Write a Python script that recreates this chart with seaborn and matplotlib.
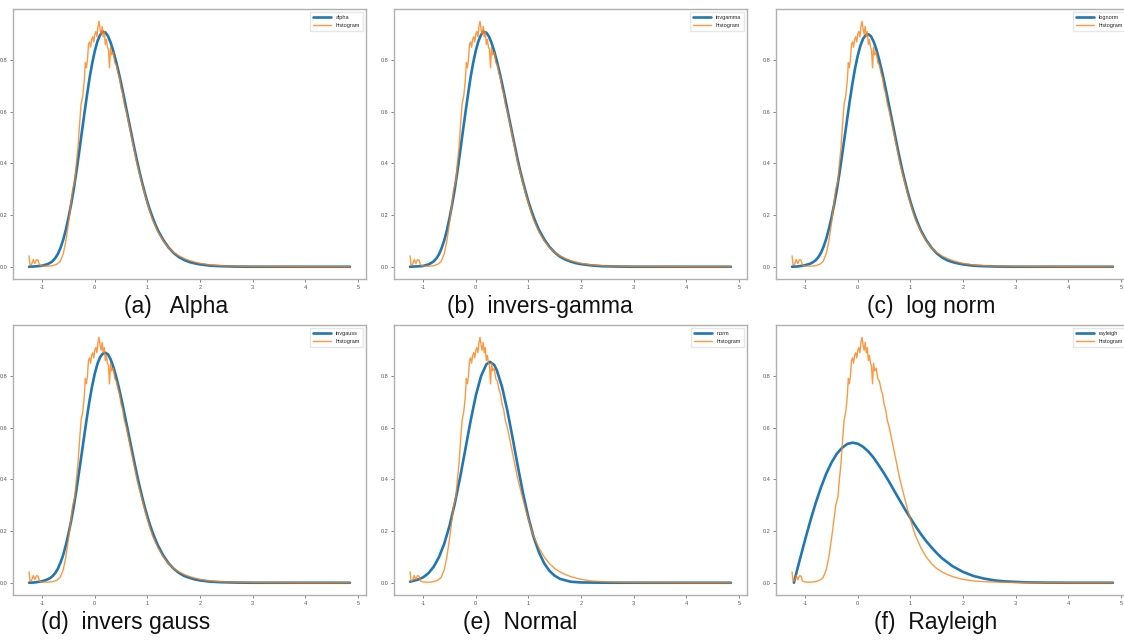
import matplotlib
matplotlib.use("Agg")
import matplotlib.pyplot as plt
import seaborn as sns

# histogram of the data (same in every panel)
hist_x = [-1.25, -1.23, -1.20, -1.17, -1.14, -1.11, -1.08, -1.05, -1.00, -0.90,
          -0.80, -0.72, -0.66, -0.60, -0.55, -0.50, -0.45, -0.42, -0.38, -0.35,
          -0.32, -0.29, -0.26, -0.23, -0.20, -0.18, -0.16, -0.14, -0.12, -0.10,
          -0.08, -0.06, -0.04, -0.02, 0.00, 0.02, 0.04, 0.06, 0.08, 0.10,
          0.12, 0.14, 0.16, 0.18, 0.20, 0.22, 0.24, 0.26, 0.28, 0.30,
          0.32, 0.35, 0.38, 0.41, 0.44, 0.47, 0.50, 0.53, 0.56, 0.60,
          0.65, 0.70, 0.75, 0.80, 0.85, 0.90, 0.95, 1.00, 1.05, 1.10,
          1.20, 1.30, 1.40, 1.50, 1.60, 1.70, 1.80, 1.90, 2.00, 2.20,
          2.40, 2.70, 3.00, 3.50, 4.00, 4.85]
hist_y = [0.042, 0.005, 0.010, 0.028, 0.012, 0.027, 0.026, 0.006, 0.003, 0.002,
          0.004, 0.010, 0.020, 0.050, 0.100, 0.170, 0.250, 0.300, 0.330, 0.400,
          0.460, 0.550, 0.630, 0.660, 0.720, 0.790, 0.770, 0.800, 0.860, 0.870,
          0.850, 0.880, 0.890, 0.870, 0.900, 0.910, 0.890, 0.930, 0.950, 0.920,
          0.900, 0.930, 0.890, 0.910, 0.860, 0.880, 0.850, 0.840, 0.770, 0.850,
          0.820, 0.830, 0.790, 0.780, 0.750, 0.730, 0.690, 0.670, 0.630, 0.600,
          0.550, 0.500, 0.450, 0.400, 0.360, 0.320, 0.280, 0.245, 0.210, 0.180,
          0.135, 0.100, 0.074, 0.055, 0.042, 0.032, 0.024, 0.018, 0.013, 0.007,
          0.004, 0.002, 0.001, 0.0005, 0.0, 0.0]

# fitted pdfs, shared x grid for the four close fits
fit_x = [-1.25, -1.15, -1.05, -1.00, -0.95, -0.90, -0.85, -0.80, -0.75, -0.70,
         -0.65, -0.60, -0.55, -0.50, -0.45, -0.40, -0.35, -0.30, -0.25, -0.20,
         -0.15, -0.10, -0.05, 0.00, 0.05, 0.10, 0.15, 0.20, 0.25, 0.30,
         0.35, 0.40, 0.45, 0.50, 0.55, 0.60, 0.65, 0.70, 0.75, 0.80,
         0.85, 0.90, 0.95, 1.00, 1.05, 1.10, 1.15, 1.20, 1.30, 1.40,
         1.50, 1.60, 1.70, 1.80, 1.90, 2.00, 2.20, 2.40, 2.70, 3.00,
         4.85]
alpha_y = [0.0, 0.001, 0.003, 0.004, 0.007, 0.010, 0.015, 0.022, 0.034, 0.050,
           0.074, 0.105, 0.144, 0.190, 0.242, 0.300, 0.368, 0.440, 0.515, 0.590,
           0.662, 0.730, 0.787, 0.835, 0.872, 0.897, 0.910, 0.907, 0.893, 0.868,
           0.836, 0.798, 0.756, 0.710, 0.661, 0.610, 0.560, 0.510, 0.460, 0.412,
           0.367, 0.325, 0.286, 0.250, 0.218, 0.190, 0.164, 0.141, 0.104, 0.075,
           0.053, 0.037, 0.026, 0.018, 0.013, 0.009, 0.004, 0.002, 0.0005, 0.0,
           0.0]
invgamma_y = [0.0, 0.001, 0.002, 0.003, 0.006, 0.009, 0.014, 0.021, 0.032, 0.048,
              0.072, 0.102, 0.141, 0.188, 0.241, 0.300, 0.369, 0.442, 0.518, 0.592,
              0.664, 0.732, 0.789, 0.837, 0.873, 0.898, 0.910, 0.906, 0.891, 0.866,
              0.834, 0.796, 0.754, 0.708, 0.659, 0.608, 0.558, 0.508, 0.459, 0.410,
              0.366, 0.326, 0.288, 0.252, 0.221, 0.192, 0.166, 0.143, 0.106, 0.077,
              0.055, 0.039, 0.028, 0.020, 0.014, 0.010, 0.005, 0.002, 0.0007, 0.0,
              0.0]
lognorm_y = [0.0, 0.001, 0.004, 0.006, 0.009, 0.012, 0.018, 0.025, 0.037, 0.054,
             0.078, 0.108, 0.146, 0.190, 0.240, 0.296, 0.360, 0.430, 0.502, 0.575,
             0.646, 0.712, 0.770, 0.818, 0.856, 0.882, 0.896, 0.900, 0.892, 0.872,
             0.843, 0.806, 0.764, 0.718, 0.669, 0.618, 0.567, 0.516, 0.465, 0.416,
             0.370, 0.328, 0.288, 0.252, 0.219, 0.190, 0.164, 0.140, 0.103, 0.074,
             0.052, 0.036, 0.025, 0.018, 0.013, 0.009, 0.004, 0.002, 0.0005, 0.0,
             0.0]
invgauss_y = [0.0, 0.001, 0.004, 0.006, 0.009, 0.013, 0.018, 0.026, 0.038, 0.055,
              0.079, 0.108, 0.146, 0.190, 0.239, 0.295, 0.358, 0.428, 0.498, 0.570,
              0.640, 0.705, 0.762, 0.810, 0.847, 0.873, 0.886, 0.890, 0.884, 0.865,
              0.837, 0.802, 0.761, 0.716, 0.668, 0.618, 0.568, 0.518, 0.468, 0.420,
              0.374, 0.332, 0.292, 0.256, 0.223, 0.194, 0.168, 0.144, 0.106, 0.076,
              0.054, 0.038, 0.026, 0.019, 0.013, 0.009, 0.004, 0.002, 0.0005, 0.0,
              0.0]

norm_x = [-1.25, -1.10, -1.00, -0.90, -0.80, -0.70, -0.60, -0.50, -0.40, -0.30,
          -0.20, -0.10, 0.00, 0.10, 0.20, 0.27, 0.35, 0.40, 0.50, 0.60,
          0.70, 0.80, 0.90, 1.00, 1.10, 1.20, 1.30, 1.40, 1.50, 1.60,
          1.80, 2.00, 2.50, 4.85]
norm_y = [0.004, 0.012, 0.021, 0.037, 0.062, 0.099, 0.151, 0.220, 0.306, 0.406,
          0.515, 0.625, 0.724, 0.800, 0.845, 0.855, 0.843, 0.822, 0.757, 0.666,
          0.560, 0.449, 0.344, 0.252, 0.176, 0.118, 0.075, 0.046, 0.027, 0.015,
          0.004, 0.001, 0.0, 0.0]

rayleigh_x = [-1.215, -1.15, -1.10, -1.00, -0.90, -0.80, -0.70, -0.60, -0.50, -0.40,
              -0.30, -0.20, -0.10, 0.00, 0.10, 0.20, 0.30, 0.40, 0.50, 0.60,
              0.70, 0.80, 0.90, 1.00, 1.10, 1.20, 1.30, 1.40, 1.50, 1.60,
              1.80, 2.00, 2.20, 2.40, 2.60, 2.80, 3.20, 3.60, 4.00, 4.85]
rayleigh_y = [0.0, 0.052, 0.091, 0.168, 0.241, 0.309, 0.369, 0.422, 0.465, 0.499,
              0.522, 0.537, 0.542, 0.538, 0.526, 0.508, 0.484, 0.454, 0.423, 0.389,
              0.353, 0.318, 0.283, 0.250, 0.218, 0.188, 0.161, 0.137, 0.115, 0.095,
              0.064, 0.042, 0.026, 0.016, 0.009, 0.005, 0.0015, 0.0004, 0.0, 0.0]

panels = [
    ("alpha", fit_x, alpha_y, "(a)   Alpha"),
    ("invgamma", fit_x, invgamma_y, "(b)  invers-gamma"),
    ("lognorm", fit_x, lognorm_y, "(c)  log norm"),
    ("invgauss", fit_x, invgauss_y, "(d)  invers gauss"),
    ("norm", norm_x, norm_y, "(e)  Normal"),
    ("rayleigh", rayleigh_x, rayleigh_y, "(f)  Rayleigh"),
]

sns.set_style("white")
plt.rcParams['font.family'] = ['Liberation Sans', 'DejaVu Sans']
plt.rcParams['axes.unicode_minus'] = False

fig = plt.figure(figsize=(11.24, 6.4), dpi=100)
W, H = 1124, 640
lefts = [13, 394, 776]
tops = [9, 325]
aw, ah = 353, 270
caption_x = [176, 540, 931, 126, 520, 936]
caption_y = [306, 623]

for i, (name, fx, fy, caption) in enumerate(panels):
    row, col = divmod(i, 3)
    ax = fig.add_axes([lefts[col] / W, 1 - (tops[row] + ah) / H, aw / W, ah / H])
    sns.lineplot(x=fx, y=fy, ax=ax, color="#1f77b4", lw=1.9, label=name)
    sns.lineplot(x=hist_x, y=hist_y, ax=ax, color="#ff7f0e", lw=1.0,
                 alpha=0.8, label="histogram")
    ax.set_xticks([-1, 0, 1, 2, 3, 4, 5])
    ax.set_yticks([0.0, 0.2, 0.4, 0.6, 0.8])
    ax.set_yticklabels(["0.0", "0.2", "0.4", "0.6", "0.8"])
    ax.tick_params(labelsize=4, colors="#555555", length=2, width=0.5,
                   bottom=True, left=True, pad=2)
    for sp in ax.spines.values():
        sp.set_color("#b0b0b0")
        sp.set_linewidth(1.0)
    ax.legend(loc="upper right", fontsize=4, frameon=True, handlelength=3.2,
              borderpad=0.6, labelspacing=0.5, edgecolor="#e0e0e0", fancybox=False)
    fig.text(caption_x[i] / W, 1 - caption_y[row] / H, caption,
             ha="center", va="center", fontsize=16.5, color="#111111")

fig.savefig("out.png", dpi=100)
